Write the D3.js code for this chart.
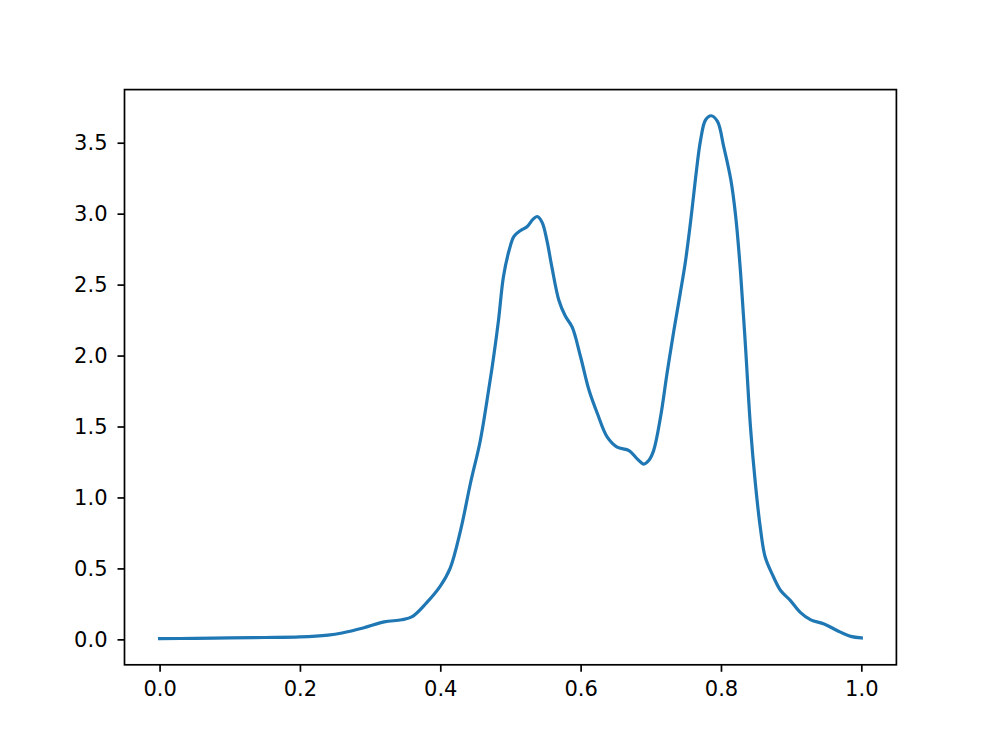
<!DOCTYPE html>
<html>
<head>
<meta charset="utf-8">
<script src="https://cdn.jsdelivr.net/npm/d3@7"></script>
<style>
  body { margin: 0; background: #fff; }
  svg { display: block; }
  .axis text { font-family: "DejaVu Sans", sans-serif; font-size: 21px; fill: #000; }
  .axis line { stroke: #000; stroke-width: 1.7px; }
  .axis path { display: none; }
</style>
</head>
<body>
<div id="chart-area"></div>
<script>
// values
const xValues = [0.00, 0.05, 0.10, 0.15, 0.20, 0.24, 0.26, 0.29, 0.32, 0.345,
  0.36, 0.38, 0.40, 0.414, 0.429, 0.443, 0.457, 0.469, 0.476, 0.483,
  0.490, 0.498, 0.505, 0.514, 0.524, 0.532, 0.538, 0.545, 0.552, 0.559,
  0.569, 0.578, 0.588, 0.600, 0.612, 0.624, 0.638, 0.652, 0.669, 0.681,
  0.690, 0.697, 0.704, 0.714, 0.723, 0.733, 0.742, 0.749, 0.757, 0.764,
  0.771, 0.778, 0.786, 0.795, 0.804, 0.814, 0.821, 0.828, 0.835, 0.842,
  0.849, 0.856, 0.863, 0.873, 0.885, 0.899, 0.913, 0.928, 0.947, 0.966,
  0.985, 1.00]
const yValues = [0.005, 0.007, 0.010, 0.013, 0.017, 0.030, 0.045, 0.080, 0.123, 0.138,
  0.160, 0.255, 0.375, 0.50, 0.77, 1.10, 1.40, 1.76, 1.99, 2.25,
  2.555, 2.74, 2.84, 2.88, 2.91, 2.96, 2.98, 2.94, 2.81, 2.625,
  2.39, 2.28, 2.20, 1.99, 1.755, 1.59, 1.425, 1.355, 1.33, 1.27,
  1.235, 1.26, 1.33, 1.57, 1.87, 2.18, 2.44, 2.65, 2.955, 3.26,
  3.52, 3.66, 3.69, 3.65, 3.47, 3.24, 2.98, 2.58, 2.06, 1.50,
  1.10, 0.79, 0.58, 0.46, 0.344, 0.273, 0.19, 0.137, 0.109, 0.061,
  0.021, 0.01]
const xTicks = [0.0, 0.2, 0.4, 0.6, 0.8, 1.0]
const yTicks = [0.0, 0.5, 1.0, 1.5, 2.0, 2.5, 3.0, 3.5]

const FIG_W = 996
const FIG_H = 747
const MARGIN = { LEFT: 124.5, RIGHT: 99.6, TOP: 89.6, BOTTOM: 82.2 }
const WIDTH = FIG_W - MARGIN.LEFT - MARGIN.RIGHT
const HEIGHT = FIG_H - MARGIN.TOP - MARGIN.BOTTOM

const data = xValues.map((x, i) => ({ x: x, y: yValues[i] }))

const svg = d3.select("#chart-area").append("svg")
    .attr("width", FIG_W)
    .attr("height", FIG_H)

const g = svg.append("g")
    .attr("transform", `translate(${MARGIN.LEFT}, ${MARGIN.TOP})`)

// Scales (matplotlib style 5% padding)
const xExt = d3.extent(xValues)
const xPad = (xExt[1] - xExt[0]) * 0.05
const x = d3.scaleLinear()
    .domain([xExt[0] - xPad, xExt[1] + xPad])
    .range([0, WIDTH])

const yExt = d3.extent(yValues)
const yPad = (yExt[1] - yExt[0]) * 0.05
const y = d3.scaleLinear()
    .domain([yExt[0] - yPad, yExt[1] + yPad])
    .range([HEIGHT, 0])

// X Axis
const xAxisCall = d3.axisBottom(x)
    .tickValues(xTicks)
    .tickFormat(d3.format(".1f"))
    .tickSize(7)
    .tickPadding(9)
g.append("g")
    .attr("class", "x axis")
    .attr("transform", `translate(0, ${HEIGHT})`)
    .call(xAxisCall)

// Y Axis
const yAxisCall = d3.axisLeft(y)
    .tickValues(yTicks)
    .tickFormat(d3.format(".1f"))
    .tickSize(7)
    .tickPadding(10)
g.append("g")
    .attr("class", "y axis")
    .call(yAxisCall)

// Line
const line = d3.line()
    .x(d => x(d.x))
    .y(d => y(d.y))
    .curve(d3.curveCatmullRom.alpha(0.5))

g.append("path")
    .datum(data)
    .attr("fill", "none")
    .attr("stroke", "#1f77b4")
    .attr("stroke-width", 3.2)
    .attr("stroke-linejoin", "round")
    .attr("stroke-linecap", "square")
    .attr("d", line)

// Frame
g.append("rect")
    .attr("width", WIDTH)
    .attr("height", HEIGHT)
    .attr("fill", "none")
    .attr("stroke", "#000")
    .attr("stroke-width", 1.7)
</script>
</body>
</html>
